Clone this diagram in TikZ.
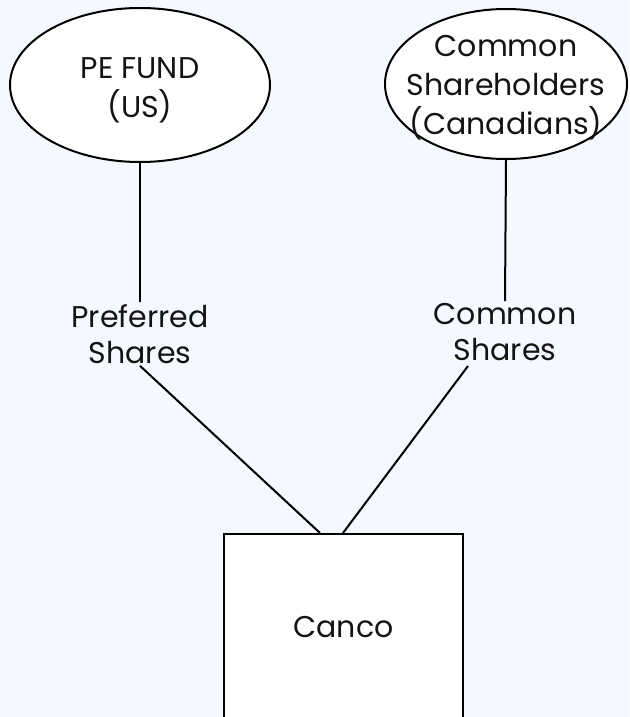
\documentclass[tikz,border=0pt]{standalone}
\usepackage{fontspec}
\setmainfont{Poppins}
\usetikzlibrary{shapes.geometric}
\definecolor{bgc}{RGB}{245,248,255}
\definecolor{txt}{RGB}{20,20,20}
\tikzset{
  entity/.style={ellipse, draw=black, line width=2pt, fill=white, inner sep=0pt},
  lbl/.style={align=center, inner sep=2pt, text=txt, font=\fontsize{30}{36}\selectfont},
  elbl/.style={align=center, inner sep=0pt, text=txt, font=\fontsize{30}{39}\selectfont},
  conn/.style={draw=black, line width=2pt},
}
\begin{document}
\begin{tikzpicture}[x=1pt,y=-1pt]
\fill[bgc] (0,0) rectangle (629,717);
\useasboundingbox (0,0) rectangle (629,717);
\clip (0,0) rectangle (629,717);
\node[entity, minimum width=260, minimum height=154] (pe) at (140,85) {};
\node[elbl] at (140,90) {PE FUND\\(US)};
\node[entity, minimum width=242, minimum height=150] (cs) at (506,84) {};
\node[elbl] at (506,88) {Common\\Shareholders\\(Canadians)};
\node[lbl] (pref) at (140,334) {Preferred\\Shares};
\node[lbl] (coms) at (505,332) {Common\\Shares};
\node[draw=black, line width=2pt, fill=white, minimum width=239, minimum height=260, anchor=north] (canco) at (343.5,533) {};
\node[lbl] at (343.5,627) {Canco};
\coordinate (inL) at (320,533);
\coordinate (inR) at (343,533);
\coordinate (pR) at (468,366);
\draw[conn] (pe.south) -- (pref.north);
\draw[conn] (cs.south) -- (coms.north);
\draw[conn] (pref.south) -- (inL);
\draw[conn] (pR) -- (inR);
\end{tikzpicture}
\end{document}
